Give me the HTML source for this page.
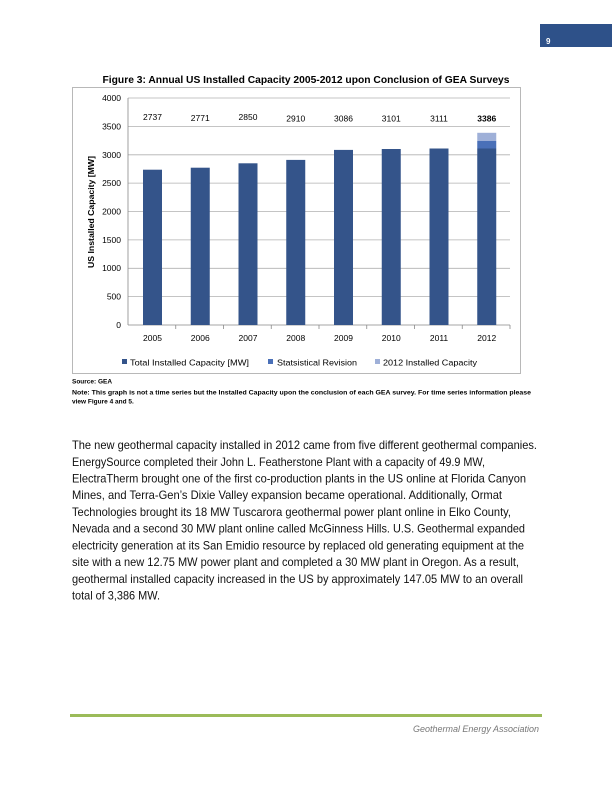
<!DOCTYPE html>
<html><head><meta charset="utf-8"><style>
html,body{margin:0;padding:0;background:#fff;}
svg{display:block;}
text{font-family:"Liberation Sans",sans-serif;}
</style></head><body>
<svg width="612" height="792" viewBox="0 0 612 792" xmlns="http://www.w3.org/2000/svg">
<rect x="540" y="24" width="72" height="23" fill="#2e5189"/>
<text x="546" y="44" font-size="8" font-weight="bold" fill="#fff">9</text>

<text x="306" y="83" font-size="10.5" font-weight="bold" text-anchor="middle" textLength="407" lengthAdjust="spacingAndGlyphs">Figure 3: Annual US Installed Capacity 2005-2012 upon Conclusion of GEA Surveys</text>
<rect x="72.5" y="87.5" width="448" height="286" fill="#fff" stroke="#b8b8b8" stroke-width="1"/>

<g stroke="#b0b0b0" stroke-width="0.8">
<line x1="128" y1="98" x2="510" y2="98"/>
<line x1="128" y1="126.4" x2="510" y2="126.4"/>
<line x1="128" y1="154.8" x2="510" y2="154.8"/>
<line x1="128" y1="183.1" x2="510" y2="183.1"/>
<line x1="128" y1="211.5" x2="510" y2="211.5"/>
<line x1="128" y1="239.9" x2="510" y2="239.9"/>
<line x1="128" y1="268.3" x2="510" y2="268.3"/>
<line x1="128" y1="296.6" x2="510" y2="296.6"/>
</g>
<g stroke="#888" stroke-width="0.8">
<line x1="128" y1="98" x2="128" y2="325"/>
<line x1="128" y1="325" x2="510" y2="325"/>
<line x1="175.75" y1="325" x2="175.75" y2="329"/>
<line x1="223.5" y1="325" x2="223.5" y2="329"/>
<line x1="271.25" y1="325" x2="271.25" y2="329"/>
<line x1="319" y1="325" x2="319" y2="329"/>
<line x1="366.75" y1="325" x2="366.75" y2="329"/>
<line x1="414.5" y1="325" x2="414.5" y2="329"/>
<line x1="462.25" y1="325" x2="462.25" y2="329"/>
<line x1="510" y1="325" x2="510" y2="329"/>
</g>
<g font-size="8.5" text-anchor="end" fill="#000">
<text x="121" y="101">4000</text>
<text x="121" y="129.5">3500</text>
<text x="121" y="158">3000</text>
<text x="121" y="186">2500</text>
<text x="121" y="214.5">2000</text>
<text x="121" y="243">1500</text>
<text x="121" y="271">1000</text>
<text x="121" y="299.5">500</text>
<text x="121" y="328">0</text>
</g>
<text transform="translate(94,212) rotate(-90)" font-size="8.5" font-weight="bold" text-anchor="middle" textLength="112" lengthAdjust="spacingAndGlyphs">US Installed Capacity [MW]</text>

<g fill="#34548a">
<rect x="143" y="169.7" width="19" height="155.3"/>
<rect x="190.75" y="167.7" width="19" height="157.3"/>
<rect x="238.5" y="163.3" width="19" height="161.7"/>
<rect x="286.25" y="159.9" width="19" height="165.1"/>
<rect x="334" y="149.9" width="19" height="175.1"/>
<rect x="381.75" y="149" width="19" height="176"/>
<rect x="429.5" y="148.5" width="19" height="176.5"/>
<rect x="477.25" y="148.5" width="19" height="176.5"/>
</g>
<rect x="477.25" y="141" width="19" height="7.5" fill="#4a70b8"/>
<rect x="477.25" y="132.8" width="19" height="8.2" fill="#9fb0d8"/>

<g font-size="8.5" text-anchor="middle">
<text x="152.5" y="120">2737</text>
<text x="200.25" y="121">2771</text>
<text x="248" y="120">2850</text>
<text x="295.75" y="121.5">2910</text>
<text x="343.5" y="121.5">3086</text>
<text x="391.25" y="121.5">3101</text>
<text x="439" y="121.5">3111</text>
<text x="486.75" y="121.5" font-weight="bold">3386</text>
</g>
<g font-size="8.5" text-anchor="middle">
<text x="152.5" y="341">2005</text>
<text x="200.25" y="341">2006</text>
<text x="248" y="341">2007</text>
<text x="295.75" y="341">2008</text>
<text x="343.5" y="341">2009</text>
<text x="391.25" y="341">2010</text>
<text x="439" y="341">2011</text>
<text x="486.75" y="341">2012</text>
</g>
<g font-size="8.5">
<rect x="122" y="359" width="5" height="5" fill="#34548a"/>
<text x="130" y="365.5" textLength="119" lengthAdjust="spacingAndGlyphs">Total Installed Capacity [MW]</text>
<rect x="268" y="359" width="5" height="5" fill="#4a70b8"/>
<text x="277" y="365.5" textLength="80" lengthAdjust="spacingAndGlyphs">Statsistical Revision</text>
<rect x="375" y="359" width="5" height="5" fill="#9fb0d8"/>
<text x="383" y="365.5" textLength="94" lengthAdjust="spacingAndGlyphs">2012 Installed Capacity</text>
</g>

<g font-size="6.5" font-weight="bold">
<text x="72" y="383.5">Source: GEA</text>
<text x="72" y="394.5" textLength="459" lengthAdjust="spacingAndGlyphs">Note: This graph is not a time series but the Installed Capacity upon the conclusion of each GEA survey.  For time series information please</text>
<text x="72" y="403.5">view Figure 4 and 5.</text>
</g>

<g font-size="12" fill="#111">
<text x="72" y="449" textLength="465" lengthAdjust="spacingAndGlyphs">The new geothermal capacity installed in 2012 came from five different geothermal companies.</text>
<text x="72" y="466" textLength="413" lengthAdjust="spacingAndGlyphs">EnergySource completed their John L. Featherstone Plant with a capacity of 49.9 MW,</text>
<text x="72" y="482.5" textLength="454" lengthAdjust="spacingAndGlyphs">ElectraTherm brought one of the first co-production plants in the US online at Florida Canyon</text>
<text x="72" y="499" textLength="430" lengthAdjust="spacingAndGlyphs">Mines, and Terra-Gen’s Dixie Valley expansion became operational.  Additionally, Ormat</text>
<text x="72" y="516" textLength="439" lengthAdjust="spacingAndGlyphs">Technologies brought its 18 MW Tuscarora geothermal power plant online in Elko County,</text>
<text x="72" y="532.5" textLength="453" lengthAdjust="spacingAndGlyphs">Nevada and a second 30 MW plant online called McGinness Hills.  U.S. Geothermal expanded</text>
<text x="72" y="549.5" textLength="452" lengthAdjust="spacingAndGlyphs">electricity generation at its San Emidio resource by replaced old generating equipment at the</text>
<text x="72" y="566" textLength="447" lengthAdjust="spacingAndGlyphs">site with a new 12.75 MW power plant and completed a 30 MW plant in Oregon.  As a result,</text>
<text x="72" y="583" textLength="451" lengthAdjust="spacingAndGlyphs">geothermal installed capacity increased in the US by approximately 147.05 MW to an overall</text>
<text x="72" y="599.5" textLength="88" lengthAdjust="spacingAndGlyphs">total of 3,386 MW.</text>
</g>

<rect x="70" y="714" width="472" height="3" fill="#9bbb59"/>
<text x="539" y="732" font-size="9" font-style="italic" fill="#777" text-anchor="end" textLength="126" lengthAdjust="spacingAndGlyphs">Geothermal Energy Association</text>
</svg>
</body></html>
